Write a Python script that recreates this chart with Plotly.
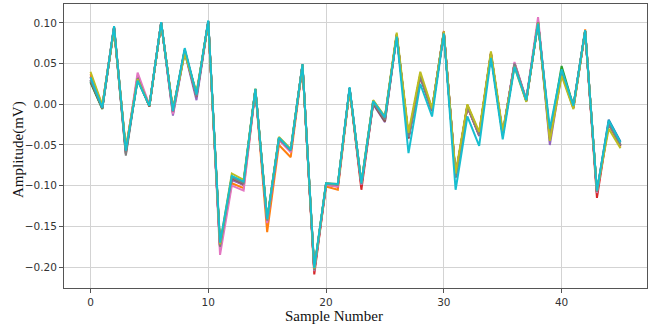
import plotly.graph_objects as go

sample_number = list(range(46))

series_names = ["s0", "s1", "s2", "s3", "s4", "s5", "s6", "s7", "s8", "s9"]
series_colors = ["#1f77b4", "#ff7f0e", "#2ca02c", "#d62728", "#9467bd",
                 "#8c564b", "#e377c2", "#7f7f7f", "#bcbd22", "#17becf"]

s0 = [0.028, -0.005, 0.094, -0.058, 0.031, -0.002, 0.100, -0.009, 0.067, 0.011, 0.102, -0.176, -0.089, -0.096, 0.018, -0.144, -0.041, -0.056, 0.049, -0.204, -0.097, -0.099, 0.020, -0.097, 0.004, -0.016, 0.085, -0.040, 0.036, -0.006, 0.088, -0.087, -0.002, -0.036, 0.062, -0.036, 0.050, 0.006, 0.101, -0.036, 0.041, -0.002, 0.090, -0.107, -0.019, -0.046]
s1 = [0.037, -0.002, 0.094, -0.055, 0.033, -0.001, 0.100, -0.007, 0.066, 0.012, 0.101, -0.176, -0.097, -0.103, 0.017, -0.157, -0.050, -0.065, 0.047, -0.205, -0.101, -0.105, 0.018, -0.100, 0.003, -0.017, 0.086, -0.039, 0.036, -0.007, 0.090, -0.088, -0.001, -0.036, 0.063, -0.037, 0.049, 0.005, 0.101, -0.040, 0.040, -0.004, 0.092, -0.110, -0.024, -0.052]
s2 = [0.027, -0.006, 0.095, -0.057, 0.030, -0.002, 0.101, -0.008, 0.066, 0.011, 0.102, -0.174, -0.089, -0.096, 0.019, -0.142, -0.042, -0.057, 0.049, -0.203, -0.098, -0.099, 0.020, -0.098, 0.004, -0.017, 0.086, -0.040, 0.036, -0.006, 0.089, -0.088, -0.002, -0.037, 0.062, -0.037, 0.050, 0.005, 0.101, -0.038, 0.047, -0.002, 0.090, -0.108, -0.022, -0.050]
s3 = [0.034, -0.003, 0.095, -0.058, 0.034, -0.003, 0.100, -0.009, 0.066, 0.011, 0.102, -0.177, -0.092, -0.099, 0.018, -0.145, -0.043, -0.058, 0.048, -0.209, -0.099, -0.101, 0.019, -0.105, 0.002, -0.018, 0.085, -0.041, 0.034, -0.008, 0.088, -0.089, -0.003, -0.038, 0.062, -0.038, 0.050, 0.004, 0.102, -0.039, 0.040, -0.004, 0.090, -0.115, -0.023, -0.050]
s4 = [0.030, -0.004, 0.094, -0.060, 0.035, -0.002, 0.100, -0.014, 0.064, 0.005, 0.101, -0.176, -0.093, -0.099, 0.018, -0.144, -0.043, -0.058, 0.048, -0.204, -0.098, -0.100, 0.019, -0.099, 0.000, -0.022, 0.084, -0.042, 0.034, -0.008, 0.088, -0.090, -0.003, -0.039, 0.061, -0.037, 0.050, 0.004, 0.102, -0.050, 0.038, -0.005, 0.089, -0.108, -0.024, -0.051]
s5 = [0.029, -0.005, 0.093, -0.061, 0.033, -0.003, 0.100, -0.011, 0.065, 0.009, 0.101, -0.175, -0.091, -0.098, 0.018, -0.143, -0.042, -0.058, 0.048, -0.204, -0.098, -0.100, 0.019, -0.099, 0.001, -0.021, 0.085, -0.042, 0.034, -0.008, 0.088, -0.090, -0.003, -0.038, 0.062, -0.038, 0.049, 0.004, 0.101, -0.042, 0.038, -0.004, 0.090, -0.108, -0.024, -0.051]
s6 = [0.033, -0.003, 0.094, -0.058, 0.039, -0.001, 0.101, -0.012, 0.066, 0.010, 0.101, -0.185, -0.100, -0.106, 0.017, -0.146, -0.044, -0.059, 0.048, -0.205, -0.099, -0.101, 0.019, -0.099, 0.003, -0.018, 0.085, -0.040, 0.036, -0.007, 0.089, -0.088, -0.002, -0.037, 0.063, -0.036, 0.052, 0.006, 0.107, -0.040, 0.040, -0.003, 0.090, -0.109, -0.023, -0.050]
s7 = [0.030, -0.005, 0.094, -0.063, 0.032, -0.002, 0.100, -0.009, 0.065, 0.010, 0.101, -0.175, -0.090, -0.097, 0.018, -0.143, -0.042, -0.057, 0.048, -0.204, -0.098, -0.099, 0.019, -0.098, 0.002, -0.019, 0.085, -0.040, 0.035, -0.007, 0.088, -0.089, -0.002, -0.037, 0.062, -0.037, 0.050, 0.005, 0.101, -0.040, 0.039, -0.003, 0.090, -0.108, -0.023, -0.050]
s8 = [0.040, -0.001, 0.092, -0.054, 0.031, -0.002, 0.099, -0.006, 0.062, 0.015, 0.100, -0.172, -0.085, -0.093, 0.019, -0.141, -0.040, -0.055, 0.048, -0.202, -0.097, -0.098, 0.018, -0.096, 0.005, -0.015, 0.088, -0.035, 0.040, -0.005, 0.089, -0.085, 0.000, -0.034, 0.065, -0.033, 0.046, 0.003, 0.100, -0.045, 0.035, -0.006, 0.090, -0.106, -0.030, -0.054]
s9 = [0.033, -0.004, 0.096, -0.057, 0.029, -0.002, 0.101, -0.008, 0.069, 0.012, 0.103, -0.170, -0.088, -0.095, 0.019, -0.141, -0.041, -0.056, 0.049, -0.201, -0.097, -0.098, 0.021, -0.097, 0.004, -0.016, 0.083, -0.060, 0.025, -0.015, 0.087, -0.105, -0.015, -0.051, 0.057, -0.043, 0.046, 0.005, 0.099, -0.030, 0.043, -0.002, 0.091, -0.106, -0.020, -0.047]

all_series = [s0, s1, s2, s3, s4, s5, s6, s7, s8, s9]

x_ticks = [0, 10, 20, 30, 40]
y_ticks = [-0.20, -0.15, -0.10, -0.05, 0.00, 0.05, 0.10]

fig = go.Figure()
for name, color, vals in zip(series_names, series_colors, all_series):
    fig.add_trace(go.Scatter(x=sample_number, y=vals, mode="lines", name=name,
                             line=dict(color=color, width=2), showlegend=False))

L, R, T, B, W, H = 64, 7, 4, 41, 654, 329
pw, ph = W - L - R, H - T - B

tick_font = dict(family="DejaVu Sans", size=10.5, color="#333333")
title_font = dict(family="Liberation Serif", size=15, color="#111111")
fig.update_layout(
    width=W, height=H,
    margin=dict(l=L, r=R, t=T, b=B),
    paper_bgcolor="white", plot_bgcolor="white",
    xaxis=dict(range=[-2.25, 47.25], tickvals=x_ticks, ticks="outside", ticklen=4,
               tickcolor="#555555", showgrid=True, gridcolor="#d3d3d3", gridwidth=1.2,
               showline=True, linecolor="#555555", linewidth=1, mirror=True,
               zeroline=False, tickfont=tick_font),
    yaxis=dict(range=[-0.2257, 0.1232], tickvals=y_ticks, tickformat=".2f",
               ticks="outside", ticklen=4, tickcolor="#555555",
               showgrid=True, gridcolor="#d3d3d3", gridwidth=1.2,
               showline=True, linecolor="#555555", linewidth=1, mirror=True,
               zeroline=False, tickfont=tick_font),
    annotations=[
        dict(text="Sample Number", xref="paper", yref="paper",
             x=(334 - L) / pw, y=(H - B - 315.5) / ph,
             xanchor="center", yanchor="middle",
             showarrow=False, font=title_font),
        dict(text="Amplitude(mV)", xref="paper", yref="paper",
             x=(18 - L) / pw, y=(H - B - 150) / ph,
             xanchor="center", yanchor="middle", textangle=-90,
             showarrow=False, font=title_font),
    ],
)

fig.write_html("out.html")
